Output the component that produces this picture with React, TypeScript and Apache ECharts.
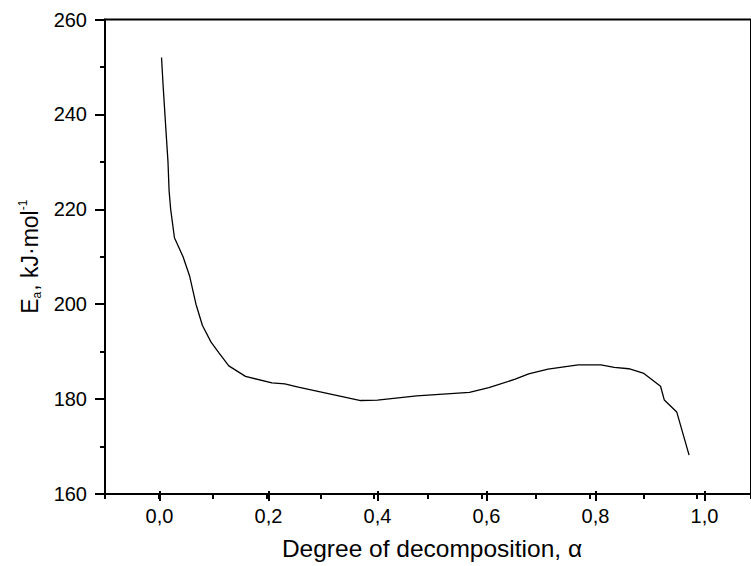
import React, { useEffect, useRef } from "react";
import * as echarts from "echarts";

// Degree of decomposition (alpha) vs activation energy Ea (kJ/mol)
const alphaValues = [
  0.005, 0.008, 0.013, 0.017, 0.019, 0.022, 0.029, 0.045, 0.057, 0.069, 0.081,
  0.097, 0.112, 0.13, 0.161, 0.21, 0.234, 0.259, 0.375, 0.406, 0.479, 0.577,
  0.613, 0.662, 0.687, 0.723, 0.779, 0.821, 0.846, 0.873, 0.901, 0.932, 0.939,
  0.962, 0.985,
];
const eaValues = [
  252, 246, 237, 230, 224, 220, 214, 210, 206, 200, 195.5, 192, 189.7, 187,
  184.8, 183.4, 183.2, 182.5, 179.7, 179.8, 180.7, 181.4, 182.4, 184.2, 185.3,
  186.3, 187.2, 187.2, 186.7, 186.4, 185.4, 182.7, 179.8, 177.3, 168.2,
];
const yTicks = { min: 160, max: 260, interval: 20 };
const xTicks = { min: -0.1, max: 1.1, minorInterval: 0.1, labelMin: 0, labelMax: 1, labelInterval: 0.2 };
const xTitle = "Degree of decomposition, \u03b1";

const FONT = "'Liberation Sans', Arial, Helvetica, sans-serif";

export default function App() {
  const ref = useRef<HTMLDivElement>(null);
  useEffect(() => {
    document.body.style.margin = "0";
    const chart = echarts.init(ref.current!, null, { renderer: "svg" });
    const data = alphaValues.map((a, i) => [a, eaValues[i]]);
    const top = 19.5;
    const height = 474.5;
    chart.setOption({
      animation: false,
      backgroundColor: "#fff",
      grid: [
        { left: 105, top, width: 654, height, show: true, borderColor: "#000", borderWidth: 2, containLabel: false },
        { left: 159.5, top, width: 545, height, show: false, containLabel: false },
      ],
      xAxis: [
        {
          type: "value",
          gridIndex: 0,
          min: xTicks.min,
          max: xTicks.max,
          interval: xTicks.minorInterval,
          axisLine: { show: true, onZero: false, lineStyle: { color: "#000", width: 2 } },
          axisTick: { show: true, length: 5, lineStyle: { color: "#000", width: 2 } },
          axisLabel: { show: false },
          splitLine: { show: false },
        },
        {
          type: "value",
          gridIndex: 1,
          min: xTicks.labelMin,
          max: xTicks.labelMax,
          interval: xTicks.labelInterval,
          axisLine: { show: false, onZero: false },
          axisTick: { show: true, length: 10, lineStyle: { color: "#000", width: 2 } },
          axisLabel: {
            show: true,
            margin: 15,
            color: "#000",
            fontSize: 20,
            fontFamily: FONT,
            formatter: (v: number) => v.toFixed(1).replace(".", ","),
          },
          splitLine: { show: false },
          name: xTitle,
          nameLocation: "middle",
          nameGap: 45,
          nameTextStyle: { color: "#000", fontSize: 24.5, fontFamily: FONT },
        },
      ],
      yAxis: [
        {
          type: "value",
          gridIndex: 0,
          min: yTicks.min,
          max: yTicks.max,
          interval: yTicks.interval,
          axisLine: { show: true, onZero: false, lineStyle: { color: "#000", width: 2 } },
          axisTick: { show: true, length: 10, lineStyle: { color: "#000", width: 2 } },
          minorTick: { show: true, splitNumber: 2, length: 5, lineStyle: { color: "#000", width: 2 } },
          axisLabel: { show: true, margin: 18, color: "#000", fontSize: 20, fontFamily: FONT },
          splitLine: { show: false },
          minorSplitLine: { show: false },
          name: "{b|E}{s|a}{b|, kJ\u00b7mol}{p|-1}",
          nameLocation: "middle",
          nameGap: 62,
          nameRotate: 90,
          nameTextStyle: {
            color: "#000",
            fontFamily: FONT,
            fontSize: 23,
            rich: {
              b: { fontSize: 23, fontFamily: FONT, color: "#000", lineHeight: 26 },
              s: { fontSize: 12, fontFamily: FONT, color: "#000", verticalAlign: "bottom", lineHeight: 26, padding: [0, 1, 0, 0] },
              p: { fontSize: 12, fontFamily: FONT, color: "#000", verticalAlign: "top", lineHeight: 26 },
            },
          },
        },
        { type: "value", gridIndex: 1, min: yTicks.min, max: yTicks.max, show: false },
      ],
      series: [
        {
          type: "line",
          xAxisIndex: 0,
          yAxisIndex: 0,
          data,
          showSymbol: false,
          symbol: "none",
          smooth: false,
          lineStyle: { color: "#000", width: 1.3 },
        },
      ],
    });
    return () => chart.dispose();
  }, []);
  return <div ref={ref} style={{ position: "absolute", left: 0, top: 0, width: 751, height: 566 }} />;
}
